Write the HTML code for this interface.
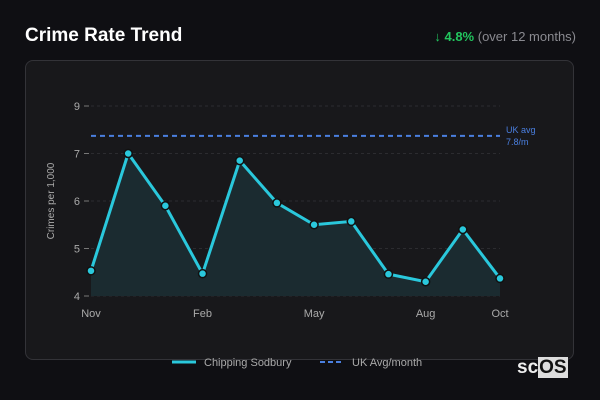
<!DOCTYPE html>
<html><head><meta charset="utf-8"><style>
body{margin:0;width:600px;height:400px;background:#0f0f13;font-family:"Liberation Sans",sans-serif;overflow:hidden;position:relative}
.t{position:absolute;left:25px;top:25px;color:#fff;font-size:19px;font-weight:bold}
.c{position:absolute;right:24px;top:29px;color:#8a8a90;font-size:13px}
.c b{color:#22c55e}
.card{position:absolute;left:25px;top:60px;width:549px;height:300px;border:1px solid #333338;border-radius:8px;background:#18181b;box-sizing:border-box}
svg{position:absolute;left:0;top:0}
.logo{position:absolute;left:517px;top:357px;color:#eee;font-size:19px;font-weight:bold}
.logo span{background:#ddd;color:#111;padding:0 1px}
</style></head><body>
<div class="t">Crime Rate Trend</div>
<div class="c"><b>↓ 4.8%</b> (over 12 months)</div>
<div class="card"></div>
<svg id="s" width="600" height="400"></svg>
<div class="logo">sc<span>OS</span></div>
<script>
const months=["Nov","Dec","Jan","Feb","Mar","Apr","May","Jun","Jul","Aug","Sep","Oct"];
const values=[4.53,7.0,5.9,4.47,6.85,5.96,5.5,5.57,4.46,4.3,5.4,4.37];
const yTicks=[4,5,6,7,8];
const yTickLabels=["4","5","6","7","9"];
const xTickLabels=["Nov","Feb","May","Aug","Oct"];
const ukAvgPlot=7.37;
const s=document.getElementById('s');const NS="http://www.w3.org/2000/svg";
const X=i=>91+i*(500-91)/11, Y=v=>296-(v-4)*47.5;
function e(t,a,txt){const el=document.createElementNS(NS,t);for(const k in a)el.setAttribute(k,a[k]);if(txt!=null)el.textContent=txt;s.appendChild(el);return el;}
yTicks.forEach((v,k)=>{
let g=e('line',{x1:91,x2:500,y1:Y(v),y2:Y(v),stroke:'#2c2c30','stroke-dasharray':'3,3'});

e('line',{x1:84,x2:89,y1:Y(v),y2:Y(v),stroke:'#777'});
let t=e('text',{x:80,y:Y(v)+4,fill:'#aaa','font-size':11,'text-anchor':'end'},yTickLabels[k]);

});
xTickLabels.forEach(m=>{let i=months.indexOf(m);
let t=e('text',{x:X(i),y:317,fill:'#aaa','font-size':11,'text-anchor':'middle'},m);
});
let yt=e('text',{transform:'translate(54,201) rotate(-90)',fill:'#aaa','font-size':10,'text-anchor':'middle'},'Crimes per 1,000');

let pts=values.map((v,i)=>X(i)+','+Y(v)).join(' ');
let a=e('polygon',{points:X(0)+','+Y(4)+' '+pts+' '+X(11)+','+Y(4),fill:'#1b2b30'});

let u=e('line',{x1:91,x2:500,y1:Y(ukAvgPlot),y2:Y(ukAvgPlot),stroke:'#4a7fe0','stroke-width':2,'stroke-dasharray':'5,4'});

let ul=e('text',{x:506,y:Y(ukAvgPlot)-3,fill:'#4a7fe0','font-size':9},'UK avg');

e('text',{x:506,y:Y(ukAvgPlot)+9,fill:'#4a7fe0','font-size':9},'7.8/m');
let l=e('polyline',{points:pts,fill:'none',stroke:'#2ac8dc','stroke-width':3});

values.forEach((v,i)=>{let c=e('circle',{cx:X(i),cy:Y(v),r:4,fill:'#2ac8dc',stroke:'#111','stroke-width':1.5});
});
e('line',{x1:172,x2:196,y1:362,y2:362,stroke:'#2ac8dc','stroke-width':3});
let l1=e('text',{x:204,y:366,fill:'#aaa','font-size':11},'Chipping Sodbury');

e('line',{x1:320,x2:344,y1:362,y2:362,stroke:'#4a7fe0','stroke-width':2,'stroke-dasharray':'5,3'});
let l2=e('text',{x:352,y:366,fill:'#aaa','font-size':11},'UK Avg/month');

</script>
</body></html>
